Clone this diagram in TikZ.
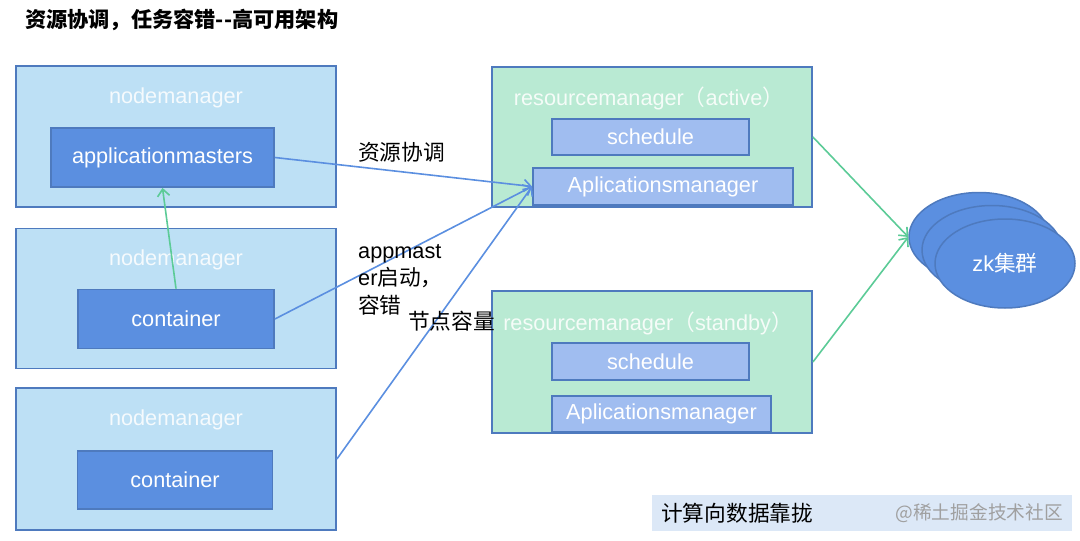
\documentclass[tikz,border=0pt]{standalone}
\usepackage{fontspec}
\setmainfont{Liberation Sans}
\newfontfamily\cjk{Noto Sans CJK SC}
\usetikzlibrary{shapes.geometric,arrows.meta}
\definecolor{edgeblue}{RGB}{78,122,190}
\definecolor{nmfill}{RGB}{189,224,245}
\definecolor{darkblue}{RGB}{91,143,224}
\definecolor{rmfill}{RGB}{185,234,211}
\definecolor{subfill}{RGB}{160,189,240}
\definecolor{greenline}{RGB}{92,203,151}
\definecolor{arrowblue}{RGB}{91,143,224}
\definecolor{notefill}{RGB}{220,232,247}
\definecolor{markgray}{RGB}{160,160,160}
\newcommand\lblsize{\fontsize{21.7}{27.5}\selectfont}
\tikzset{
  nmbox/.style={draw=edgeblue, fill=nmfill, line width=1.8pt, inner sep=0},
  rmbox/.style={draw=edgeblue, fill=rmfill, line width=1.8pt, inner sep=0},
  ambox/.style={draw=edgeblue, fill=darkblue, text=white, line width=1.8pt, inner sep=0},
  subbox/.style={draw=edgeblue, fill=subfill, text=white, line width=1.8pt, inner sep=0},
  nmtext/.style={text=white!85!nmfill, inner sep=0},
  rmtext/.style={text=white!85!rmfill, inner sep=0},
  zkell/.style={ellipse, draw=edgeblue, fill=darkblue, line width=1.5pt,
    minimum width=140, minimum height=89, inner sep=0},
  bluearrow/.style={draw=arrowblue, line width=1.6pt},
  greenarrow/.style={draw=greenline, line width=1.6pt},
  plain/.style={inner sep=0}
}
\begin{document}
\begin{tikzpicture}[x=1pt, y=-1pt, font=\lblsize,
  >={Straight Barb[length=7pt,width=12pt]}]
\useasboundingbox (0,0) rectangle (1080,541);

\node[plain, anchor=west, font=\fontsize{21.2}{24}\selectfont\cjk\bfseries] (title) at (25,20) {资源协调，任务容错-{}-高可用架构};

% nodemanagers
\node[nmbox, minimum width=320, minimum height=141] (nm1) at (176,136.5) {};
\node[nmtext] (nm1lbl) at (176,98) {nodemanager};
\node[ambox, minimum width=223, minimum height=59] (am) at (162.5,157.5) {applicationmasters};

\node[nmbox, minimum width=320, minimum height=140] (nm2) at (176,298.5) {};
\node[nmtext] (nm2lbl) at (176,260) {nodemanager};
\node[ambox, minimum width=196, minimum height=59] (c2) at (176,319) {container};

\node[nmbox, minimum width=320, minimum height=142] (nm3) at (176,459) {};
\node[nmtext] (nm3lbl) at (176,420) {nodemanager};
\node[ambox, minimum width=195, minimum height=58] (c3) at (175,480) {container};

% resourcemanagers
\node[rmbox, minimum width=320, minimum height=140] (rm1) at (652,137) {};
\node[rmtext] (rm1lbl) at (649,98) {resourcemanager{\cjk （}active{\cjk ）}};
\node[subbox, minimum width=197, minimum height=36] (sch1) at (650.5,137) {schedule};
\node[subbox, minimum width=260, minimum height=37] (apm1) at (663,186.5) {Aplicationsmanager};

\node[rmbox, minimum width=320, minimum height=142] (rm2) at (652,362) {};
\node[rmtext] (rm2lbl) at (648,323) {resourcemanager{\cjk （}standby{\cjk ）}};
\node[subbox, minimum width=197, minimum height=37] (sch2) at (650.5,361.5) {schedule};
\node[subbox, minimum width=219, minimum height=36] (apm2) at (661.5,414) {Aplicationsmanager};

% zk
\node[zkell] (zk1) at (979,237) {};
\node[zkell] (zk2) at (992,250) {};
\node[zkell, text=white] (zk3) at (1005,263.5) {zk{\cjk 集群}};

\draw[bluearrow, ->] (am.east) -- (apm1.west);
\draw[bluearrow, ->] (c2.east) -- (apm1.west);
\draw[bluearrow, ->] (nm3.east) -- (apm1.west);
\draw[greenarrow, ->] (c2.north) -- (am.south);
\draw[greenarrow, ->] (rm1.east) -- (zk1.west);
\draw[greenarrow, ->] (rm2.east) -- (zk1.west);

\node[plain, anchor=west] (coordlbl) at (358,152) {\cjk 资源协调};
\node[plain, anchor=north west, align=left] (startlbl) at (358,244) {appmast\\er{\cjk 启动，}\\{\cjk 容错}};
\node[plain, anchor=west] (caplbl) at (408,321) {\cjk 节点容量};

% note
\node[fill=notefill, minimum width=420, minimum height=36, inner sep=0] (note) at (862,513) {};
\node[plain, anchor=west] (notetxt) at (661,513) {\cjk 计算向数据靠拢};
\node[plain, anchor=east, text=markgray, font=\fontsize{18.7}{22}\selectfont\cjk] (mark) at (1063,513) {@稀土掘金技术社区};
\end{tikzpicture}
\end{document}
